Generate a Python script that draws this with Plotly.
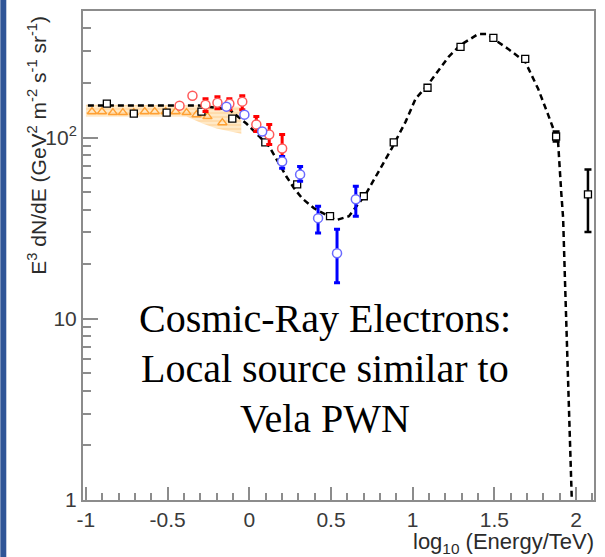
import plotly.graph_objects as go

# ---------------- data ----------------
# model curve (dashed)
CURVE_X = [-0.988, -0.61, -0.305, -0.122, -0.073, -0.018, 0.061, 0.122, 0.226, 0.274,
           0.323, 0.396, 0.53, 0.61, 0.713, 0.793, 0.872, 0.957, 1.018, 1.098,
           1.22, 1.293, 1.402, 1.451, 1.585, 1.689, 1.768, 1.829, 1.89, 1.909,
           1.921, 1.933, 1.945, 1.957, 1.970, 1.976]
CURVE_Y = [150, 150, 150, 142.6, 130.4, 119.4, 101.3, 89.3, 61.1, 52.5,
           46.2, 40.7, 35.0, 36.8, 48.7, 65.0, 87.1, 122.4, 163.7, 198,
           278.6, 324, 372.6, 372.6, 308, 261.6, 185.6, 133.7, 95, 50.5,
           35.9, 15.6, 6.67, 3.68, 1.18, 0.88]

# black squares
SQ_X = [-0.872, -0.707, -0.506, -0.293, -0.104, 0.098, 0.293, 0.494, 0.701, 0.884,
        1.091, 1.293, 1.494, 1.689, 1.878, 2.073]
SQ_Y = [153.7, 135.5, 137.2, 139, 127.2, 93.9, 55.2, 36.8, 47.4, 93.9,
        188.2, 316, 354.5, 271.6, 101.3, 48.6]
SQ_HI = [153.7, 135.5, 137.2, 139, 127.2, 93.9, 55.2, 36.8, 47.4, 93.9,
         188.2, 316, 354.5, 271.6, 107.9, 66.7]
SQ_LO = [153.7, 135.5, 137.2, 139, 127.2, 93.9, 55.2, 36.8, 47.4, 93.9,
         188.2, 316, 354.5, 271.6, 95.0, 30.1]

# orange triangles and band
TRI_X = [-0.963, -0.902, -0.835, -0.774, -0.707, -0.64, -0.579, -0.512, -0.451,
         -0.384, -0.323, -0.256, -0.165]
TRI_Y = [138.9, 138.9, 137.2, 137.2, 137.2, 138.9, 138.9, 138.9, 138.9,
         137.2, 133.7, 130.4, 120.8]
BAND_X = [-1.0, -0.6, -0.384, -0.287, -0.201, -0.049]
BAND_HI = [151.6, 151.6, 151.6, 150.5, 149.5, 148.0]
BAND_LO = [130.4, 130.4, 130.4, 119.4, 112.0, 105.0]

# red circles
RED_X = [-0.427, -0.348, -0.268, -0.195, -0.122, -0.043, 0.043, 0.122, 0.201]
RED_Y = [149.9, 170.1, 151.8, 155.7, 153.7, 157.7, 117.9, 103.9, 87.0]
RED_HI = [149.9, 170.1, 163.8, 168.0, 163.8, 170.1, 130.5, 117.9, 103.9]
RED_LO = [149.9, 170.1, 139.0, 144.2, 142.5, 142.5, 107.9, 91.5, 72.0]

# blue circles
BLUE_X = [-0.14, -0.03, 0.079, 0.201, 0.311, 0.421, 0.537, 0.652]
BLUE_Y = [148.0, 133.7, 107.9, 73.8, 62.6, 35.9, 23.0, 45.6]
BLUE_HI = [148.0, 133.7, 107.9, 78.6, 69.3, 41.8, 31.2, 53.8]
BLUE_LO = [148.0, 133.7, 107.9, 67.6, 57.3, 29.7, 15.8, 36.8]

X_TICKS = [-1, -0.5, 0, 0.5, 1, 1.5, 2]
X_TICKTEXT = ["-1", "-0.5", "0", "0.5", "1", "1.5", "2"]
Y_TICKS = [1, 10, 100]
Y_TICKTEXT = ["1", "10", "10<sup>2</sup>"]

TEXT_LINES = ["Cosmic-Ray Electrons:", "Local source similar to", "Vela PWN"]


def err(y, hi, lo):
    return [h - v for v, h in zip(y, hi)], [v - l for v, l in zip(y, lo)]


fig = go.Figure()

# band
fig.add_trace(go.Scatter(
    x=BAND_X + BAND_X[::-1], y=BAND_HI + BAND_LO[::-1],
    fill="toself", mode="lines", line=dict(width=0),
    fillcolor="rgba(255,215,160,0.75)",
    fillpattern=dict(shape="-", fgcolor="rgba(255,190,110,0.9)",
                     bgcolor="rgba(255,228,185,0.8)", size=4, solidity=0.35),
    hoverinfo="skip", showlegend=False))

# triangles
fig.add_trace(go.Scatter(
    x=TRI_X, y=TRI_Y, mode="markers",
    marker=dict(symbol="triangle-up-open", size=8, color="#ffa033",
                line=dict(width=1.5, color="#ffa033")),
    showlegend=False))

# dashed model curve
fig.add_trace(go.Scatter(
    x=CURVE_X, y=CURVE_Y, mode="lines",
    line=dict(color="black", width=2.5, dash="6px,4px"),
    showlegend=False))

# black squares
p, m = err(SQ_Y, SQ_HI, SQ_LO)
fig.add_trace(go.Scatter(
    x=SQ_X, y=SQ_Y, mode="markers",
    marker=dict(symbol="square", size=7, color="white",
                line=dict(width=1.3, color="black")),
    error_y=dict(type="data", symmetric=False, array=p, arrayminus=m,
                 color="black", thickness=2.5, width=3.5),
    showlegend=False))

# red circles
p, m = err(RED_Y, RED_HI, RED_LO)
fig.add_trace(go.Scatter(
    x=RED_X, y=RED_Y, mode="markers",
    marker=dict(symbol="circle", size=9, color="white",
                line=dict(width=1.5, color="#ff5a5a")),
    error_y=dict(type="data", symmetric=False, array=p, arrayminus=m,
                 color="#ff0000", thickness=3, width=3),
    showlegend=False))

# blue circles
p, m = err(BLUE_Y, BLUE_HI, BLUE_LO)
fig.add_trace(go.Scatter(
    x=BLUE_X, y=BLUE_Y, mode="markers",
    marker=dict(symbol="circle", size=9, color="white",
                line=dict(width=1.5, color="#6a6aff")),
    error_y=dict(type="data", symmetric=False, array=p, arrayminus=m,
                 color="#0000ff", thickness=3, width=3),
    showlegend=False))

L, R, T, B = 83, 9, 9, 57
W, H = 605, 557
PW, PH = W - L - R, H - T - B


def px2paper(xp, yp):
    return (xp - L) / PW, (H - B - yp) / PH


tick_font = dict(family="Liberation Sans, Arial", size=21, color="#3a3a3a")

fig.update_layout(
    width=W, height=H,
    margin=dict(l=L, r=R, t=T, b=B),
    paper_bgcolor="white", plot_bgcolor="white",
    xaxis=dict(range=[-1.018, 2.110], showgrid=False, zeroline=False,
               showline=True, mirror=True, linecolor="#8c8c8c", linewidth=2,
               tickvals=X_TICKS, ticktext=X_TICKTEXT, ticks="inside",
               ticklen=13, tickwidth=1.5, tickcolor="#8c8c8c",
               tickfont=tick_font,
               minor=dict(ticks="inside", dtick=0.1, ticklen=7,
                          tickwidth=1.5, tickcolor="#8c8c8c")),
    yaxis=dict(type="log", range=[0, 2.698], showgrid=False, zeroline=False,
               showline=True, mirror=True, linecolor="#8c8c8c", linewidth=2,
               tickvals=Y_TICKS, ticktext=Y_TICKTEXT, ticks="inside",
               ticklen=15, tickwidth=1.5, tickcolor="#8c8c8c",
               tickfont=tick_font,
               minor=dict(ticks="inside", dtick="D1", ticklen=8,
                          tickwidth=1.5, tickcolor="#8c8c8c")),
)

# left slide strip
x0, _ = px2paper(0, 0)
x1, _ = px2paper(6, 0)
fig.add_shape(type="rect", xref="paper", yref="paper", x0=x0, x1=x1,
              y0=-0.3, y1=1.3, fillcolor="#2f5597", line=dict(width=0),
              layer="above")

# y title
tx, ty = px2paper(37, 12)
fig.add_annotation(xref="paper", yref="paper", x=tx, y=ty,
                   xanchor="center", yanchor="top", textangle=-90,
                   showarrow=False,
                   text="E<sup>3</sup> dN/dE (GeV<sup>2</sup> m<sup>-2</sup> s<sup>-1</sup> sr<sup>-1</sup>)",
                   font=dict(family="Liberation Sans, Arial", size=21, color="#2b2b2b"))

# x title
tx, ty = px2paper(598, 527)
fig.add_annotation(xref="paper", yref="paper", x=tx, y=ty,
                   xanchor="right", yanchor="top", showarrow=False,
                   text="log<sub>10</sub> (Energy/TeV)",
                   font=dict(family="Liberation Sans, Arial", size=22, color="#2b2b2b"))

# overlaid text
for i, line in enumerate(TEXT_LINES):
    tx, ty = px2paper(326, 318 + 50 * i)
    fig.add_annotation(xref="paper", yref="paper", x=tx, y=ty,
                       xanchor="center", yanchor="middle", showarrow=False,
                       text=line,
                       font=dict(family="Liberation Serif, Times New Roman",
                                 size=40, color="black"))

fig.write_html("out.html")
